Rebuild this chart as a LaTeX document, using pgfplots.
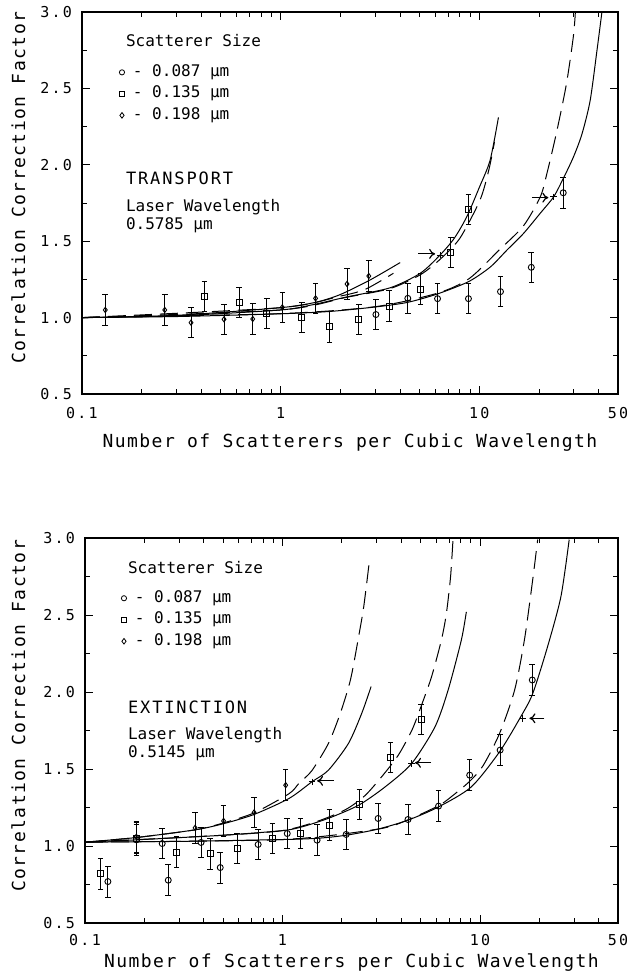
\documentclass[border=0pt]{standalone}
\usepackage{fontspec}
\usepackage{pgfplots}
\pgfplotsset{compat=1.18}
\usetikzlibrary{arrows.meta}
\setmainfont{DejaVu Sans Mono}
\newfontfamily\TickFont[LetterSpace=15]{DejaVu Sans Mono}
\newfontfamily\LabFont[LetterSpace=8]{DejaVu Sans Mono}
\newfontfamily\HeadFont[LetterSpace=11]{DejaVu Sans Mono}
\newfontfamily\NoteFont{DejaVu Sans Mono}

\begin{document}
\begin{tikzpicture}
\useasboundingbox (0,0) rectangle (313pt,-486pt);

% ---------------- TRANSPORT ----------------
\begin{axis}[scale only axis, at={(41pt,-6pt)}, anchor=north west, width=268pt, height=191pt,
    xmode=log, xmin=0.1, xmax=50, ymin=0.5, ymax=3,
    xtick={0.1,1,10,50}, xticklabels={0.1,1,10,50},
    minor xtick={0.2,0.3,0.4,0.5,0.6,0.7,0.8,0.9,2,3,4,5,6,7,8,9,20,30,40},
    ytick={0.5,1,1.5,2,2.5,3}, yticklabels={0.5,1.0,1.5,2.0,2.5,3.0},
    minor ytick={0.75,1.25,1.75,2.25,2.75},
    tick align=inside, major tick length=4pt, minor tick length=2.5pt,
    tick style={black, line width=0.45pt},
    axis line style={line width=0.55pt},
    ticklabel style={font=\TickFont\fontsize{7.5}{9}\selectfont},
    yticklabel style={xshift=-1.5pt},
    label style={font=\LabFont\fontsize{9}{11}\selectfont},
    xlabel={Number of Scatterers per Cubic Wavelength},
    ylabel={Correlation Correction Factor},
    xticklabel style={anchor=base, yshift=-12.5pt},
    xlabel style={at={(axis description cs:0.5,0)}, anchor=base, yshift=-27pt},
    ylabel style={at={(axis description cs:-0.1185,0.54)}, anchor=center},
    legend cell align=left,
    legend style={at={(rel axis cs:0.069,0.864)}, anchor=north west,
      draw=none, fill=none, inner sep=0pt, row sep=2.75pt, column sep=4.2pt,
      font=\NoteFont\fontsize{8}{9}\selectfont,
      nodes={inner sep=0pt, text height=6pt, text depth=2pt}}]

\addlegendimage{black, only marks, mark=o, mark size=1.3pt, line width=0.4pt}
\addlegendentry{- 0.087 µm}
\addlegendimage{black, only marks, mark=square, mark size=1.3pt, line width=0.4pt}
\addlegendentry{- 0.135 µm}
\addlegendimage{black, only marks, mark=diamond, mark size=1.4pt, line width=0.4pt}
\addlegendentry{- 0.198 µm}

% 0.087 um (circles)
\addplot[black, line width=0.5pt, smooth, tension=0.45, forget plot] coordinates {(0.1,1.0) (0.3,1.007) (1,1.025) (1.76,1.04) (3.02,1.07) (4.37,1.10) (6.17,1.155) (8.83,1.235) (11.35,1.33) (13.8,1.442) (16.7,1.55) (20.3,1.683) (23.7,1.79) (26.5,1.91) (29.8,2.05) (32.9,2.2) (36.2,2.42) (39.2,2.75) (41.5,3.0)};
\addplot[black, line width=0.5pt, smooth, tension=0.45, dash pattern=on 9pt off 4pt, forget plot] coordinates {(0.1,1.0) (1,1.026) (3.02,1.072) (6.17,1.16) (8.9,1.255) (12.6,1.442) (16.7,1.6) (20.3,1.79) (21.9,1.94) (24.5,2.21) (27.5,2.53) (29.8,2.84) (30.5,3.0)};
% 0.135 um (squares)
\addplot[black, line width=0.5pt, smooth, tension=0.45, forget plot] coordinates {(0.1,1.0) (0.3,1.012) (1,1.05) (1.46,1.085) (2.15,1.135) (3.56,1.195) (5.05,1.29) (6.36,1.41) (7.5,1.52) (8.66,1.66) (10,1.85) (11.35,2.03) (12.5,2.31)};
\addplot[black, line width=0.5pt, smooth, tension=0.45, dash pattern=on 9pt off 4pt, forget plot] coordinates {(0.1,1.0) (1,1.05) (2.15,1.133) (3.56,1.19) (5.05,1.28) (6.4,1.385) (8,1.52) (10.1,1.77) (11.2,1.97) (11.94,2.15)};
% 0.198 um (diamonds)
\addplot[black, line width=0.5pt, smooth, tension=0.45, forget plot] coordinates {(0.1,1.0) (0.3,1.015) (1,1.065) (1.5,1.10) (1.99,1.15) (2.82,1.246) (4.0,1.36)};
\addplot[black, line width=0.5pt, smooth, tension=0.45, dash pattern=on 9pt off 4pt, forget plot] coordinates {(0.1,1.0) (1,1.065) (1.99,1.14) (2.67,1.185) (3.7,1.29)};

\addplot[black, solid, only marks, mark=o, mark size=1.5pt, line width=0.45pt, forget plot,
  error bars/.cd, y dir=both, y explicit, error bar style={solid, line width=0.45pt},
  error mark options={rotate=90, mark size=1.4pt, line width=0.45pt}]
  table[x=x, y=y, y error=e] {
x y e
3.02 1.02 0.1
4.37 1.126 0.1
6.17 1.124 0.1
8.83 1.124 0.1
12.8 1.17 0.1
18.3 1.329 0.1
26.5 1.817 0.1
};
\addplot[black, solid, only marks, mark=square, mark size=1.5pt, line width=0.45pt, forget plot,
  error bars/.cd, y dir=both, y explicit, error bar style={solid, line width=0.45pt},
  error mark options={rotate=90, mark size=1.4pt, line width=0.45pt}]
  table[x=x, y=y, y error=e] {
x y e
0.413 1.137 0.1
0.618 1.098 0.1
0.852 1.028 0.1
1.28 1.002 0.1
1.76 0.94 0.1
2.48 0.989 0.1
3.52 1.076 0.1
5.06 1.187 0.1
7.2 1.427 0.1
8.83 1.709 0.1
};
\addplot[black, solid, only marks, mark=diamond, mark size=1.3pt, line width=0.45pt, forget plot,
  error bars/.cd, y dir=both, y explicit, error bar style={solid, line width=0.45pt},
  error mark options={rotate=90, mark size=1.4pt, line width=0.45pt}]
  table[x=x, y=y, y error=e] {
x y e
0.131 1.05 0.1
0.261 1.05 0.1
0.354 0.967 0.1
0.519 0.989 0.1
0.724 0.991 0.1
1.02 1.067 0.1
1.50 1.126 0.1
2.16 1.22 0.1
2.78 1.272 0.1
};
\addplot[black, solid, only marks, mark=+, mark size=1.6pt, line width=0.45pt, forget plot] coordinates {(6.36,1.408) (23.7,1.79)};
\draw[line width=0.6pt, -{To[length=3pt,width=5pt]}] (axis cs:4.94,1.417) -- (axis cs:6.0,1.417);
\draw[line width=0.6pt, -{To[length=3pt,width=5pt]}] (axis cs:18.4,1.785) -- (axis cs:22.3,1.785);

\node[anchor=base west, font=\NoteFont\fontsize{8}{9}\selectfont] at (rel axis cs:0.069,0.9086) {Scatterer Size};
\node[anchor=base west, font=\HeadFont\fontsize{8.5}{10}\selectfont] at (rel axis cs:0.069,0.5492) {TRANSPORT};
\node[anchor=base west, font=\NoteFont\fontsize{8}{9}\selectfont] at (rel axis cs:0.069,0.4767) {Laser Wavelength};
\node[anchor=base west, font=\NoteFont\fontsize{8}{9}\selectfont] at (rel axis cs:0.069,0.4296) {0.5785 µm};
\end{axis}

% ---------------- EXTINCTION ----------------
\begin{axis}[scale only axis, at={(42.5pt,-269pt)}, anchor=north west, width=266.5pt, height=192.5pt,
    xmode=log, xmin=0.1, xmax=50, ymin=0.5, ymax=3,
    xtick={0.1,1,10,50}, xticklabels={0.1,1,10,50},
    minor xtick={0.2,0.3,0.4,0.5,0.6,0.7,0.8,0.9,2,3,4,5,6,7,8,9,20,30,40},
    ytick={0.5,1,1.5,2,2.5,3}, yticklabels={0.5,1.0,1.5,2.0,2.5,3.0},
    minor ytick={0.75,1.25,1.75,2.25,2.75},
    tick align=inside, major tick length=4pt, minor tick length=2.5pt,
    tick style={black, line width=0.45pt},
    axis line style={line width=0.55pt},
    ticklabel style={font=\TickFont\fontsize{7.5}{9}\selectfont},
    yticklabel style={xshift=-1.5pt},
    label style={font=\LabFont\fontsize{9}{11}\selectfont},
    xlabel={Number of Scatterers per Cubic Wavelength},
    ylabel={Correlation Correction Factor},
    xticklabel style={anchor=base, yshift=-11.25pt},
    xlabel style={at={(axis description cs:0.5,0)}, anchor=base, yshift=-22pt},
    ylabel style={at={(axis description cs:-0.1248,0.5377)}, anchor=center},
    legend cell align=left,
    legend style={at={(rel axis cs:0.0675,0.8653)}, anchor=north west,
      draw=none, fill=none, inner sep=0pt, row sep=2.75pt, column sep=4.2pt,
      font=\NoteFont\fontsize{8}{9}\selectfont,
      nodes={inner sep=0pt, text height=6pt, text depth=2pt}}]

\addlegendimage{black, only marks, mark=o, mark size=1.3pt, line width=0.4pt}
\addlegendentry{- 0.087 µm}
\addlegendimage{black, only marks, mark=square, mark size=1.3pt, line width=0.4pt}
\addlegendentry{- 0.135 µm}
\addlegendimage{black, only marks, mark=diamond, mark size=1.4pt, line width=0.4pt}
\addlegendentry{- 0.198 µm}

% 0.087 um (circles)
\addplot[black, line width=0.5pt, smooth, tension=0.45, forget plot] coordinates {(0.1,1.025) (0.3,1.03) (1,1.042) (1.5,1.05) (2.1,1.07) (3.05,1.11) (4.32,1.168) (6.17,1.254) (9.04,1.384) (12.57,1.612) (16.1,1.84) (18.5,1.99) (22,2.295) (25.7,2.62) (28.3,2.99)};
\addplot[black, line width=0.5pt, smooth, tension=0.45, dash pattern=on 9pt off 4pt, forget plot] coordinates {(0.1,1.025) (1,1.042) (3.05,1.11) (4.32,1.17) (6.17,1.262) (7.16,1.32) (8.87,1.42) (10.35,1.52) (12.56,1.73) (14.96,2.01) (16.8,2.34) (18.5,2.73) (19.6,2.99)};
% 0.135 um (squares)
\addplot[black, line width=0.5pt, smooth, tension=0.45, forget plot] coordinates {(0.1,1.025) (0.182,1.04) (0.5,1.07) (1,1.10) (1.26,1.125) (1.71,1.18) (2.43,1.265) (3.31,1.384) (4.51,1.536) (5.92,1.774) (6.9,2.013) (8.05,2.338) (8.53,2.52)};
\addplot[black, line width=0.5pt, smooth, tension=0.45, dash pattern=on 9pt off 4pt, forget plot] coordinates {(0.1,1.025) (0.5,1.07) (1,1.10) (1.5,1.16) (2.09,1.237) (2.61,1.326) (3.18,1.45) (3.86,1.59) (4.54,1.757) (5.1,1.927) (5.69,2.10) (6.38,2.338) (6.76,2.51) (7.1,2.75) (7.31,3.0)};
% 0.198 um (diamonds)
\addplot[black, line width=0.5pt, smooth, tension=0.45, forget plot] coordinates {(0.1,1.025) (0.182,1.055) (0.361,1.105) (0.503,1.145) (0.718,1.205) (1.08,1.309) (1.41,1.417) (1.71,1.493) (2.16,1.667) (2.52,1.862) (2.81,2.035)};
\addplot[black, line width=0.5pt, smooth, tension=0.45, dash pattern=on 9pt off 4pt, forget plot] coordinates {(0.1,1.025) (0.182,1.055) (0.361,1.105) (0.503,1.15) (0.718,1.215) (1.08,1.34) (1.21,1.406) (1.41,1.49) (1.71,1.667) (1.96,1.86) (2.21,2.08) (2.43,2.36) (2.58,2.556) (2.76,2.86)};

\addplot[black, solid, only marks, mark=o, mark size=1.5pt, line width=0.45pt, forget plot,
  error bars/.cd, y dir=both, y explicit, error bar style={solid, line width=0.45pt},
  error mark options={rotate=90, mark size=1.4pt, line width=0.45pt}]
  table[x=x, y=y, y error=e] {
x y e
0.1306 0.769 0.1
0.182 1.04 0.1
0.246 1.016 0.1
0.264 0.778 0.1
0.387 1.023 0.1
0.484 0.86 0.1
0.753 1.01 0.1
1.057 1.081 0.1
1.497 1.038 0.1
2.10 1.075 0.1
3.05 1.179 0.1
4.32 1.172 0.1
6.17 1.259 0.1
8.87 1.46 0.1
12.65 1.623 0.1
18.4 2.078 0.1
};
\addplot[black, solid, only marks, mark=square, mark size=1.5pt, line width=0.45pt, forget plot,
  error bars/.cd, y dir=both, y explicit, error bar style={solid, line width=0.45pt},
  error mark options={rotate=90, mark size=1.4pt, line width=0.45pt}]
  table[x=x, y=y, y error=e] {
x y e
0.120 0.821 0.1
0.182 1.05 0.1
0.29 0.96 0.1
0.43 0.951 0.1
0.59 0.984 0.1
0.889 1.049 0.1
1.235 1.081 0.1
1.73 1.135 0.1
2.45 1.27 0.1
3.53 1.575 0.1
5.03 1.822 0.1
};
\addplot[black, solid, only marks, mark=diamond, mark size=1.3pt, line width=0.45pt, forget plot,
  error bars/.cd, y dir=both, y explicit, error bar style={solid, line width=0.45pt},
  error mark options={rotate=90, mark size=1.4pt, line width=0.45pt}]
  table[x=x, y=y, y error=e] {
x y e
0.182 1.06 0.1
0.361 1.118 0.1
0.503 1.163 0.1
0.718 1.218 0.1
1.038 1.395 0.1
};
\addplot[black, solid, only marks, mark=+, mark size=1.6pt, line width=0.45pt, forget plot] coordinates {(1.41,1.417) (4.51,1.536) (16.5,1.829)};
\draw[line width=0.6pt, -{To[length=3pt,width=5pt]}] (axis cs:1.816,1.423) -- (axis cs:1.497,1.423);
\draw[line width=0.6pt, -{To[length=3pt,width=5pt]}] (axis cs:5.65,1.54) -- (axis cs:4.69,1.54);
\draw[line width=0.6pt, -{To[length=3pt,width=5pt]}] (axis cs:21.2,1.829) -- (axis cs:17.8,1.829);

\node[anchor=base west, font=\NoteFont\fontsize{8}{9}\selectfont] at (rel axis cs:0.0675,0.9069) {Scatterer Size};
\node[anchor=base west, font=\HeadFont\fontsize{8.5}{10}\selectfont] at (rel axis cs:0.0675,0.5449) {EXTINCTION};
\node[anchor=base west, font=\NoteFont\fontsize{8}{9}\selectfont] at (rel axis cs:0.0675,0.4757) {Laser Wavelength};
\node[anchor=base west, font=\NoteFont\fontsize{8}{9}\selectfont] at (rel axis cs:0.0675,0.4290) {0.5145 µm};
\end{axis}
\end{tikzpicture}
\end{document}
